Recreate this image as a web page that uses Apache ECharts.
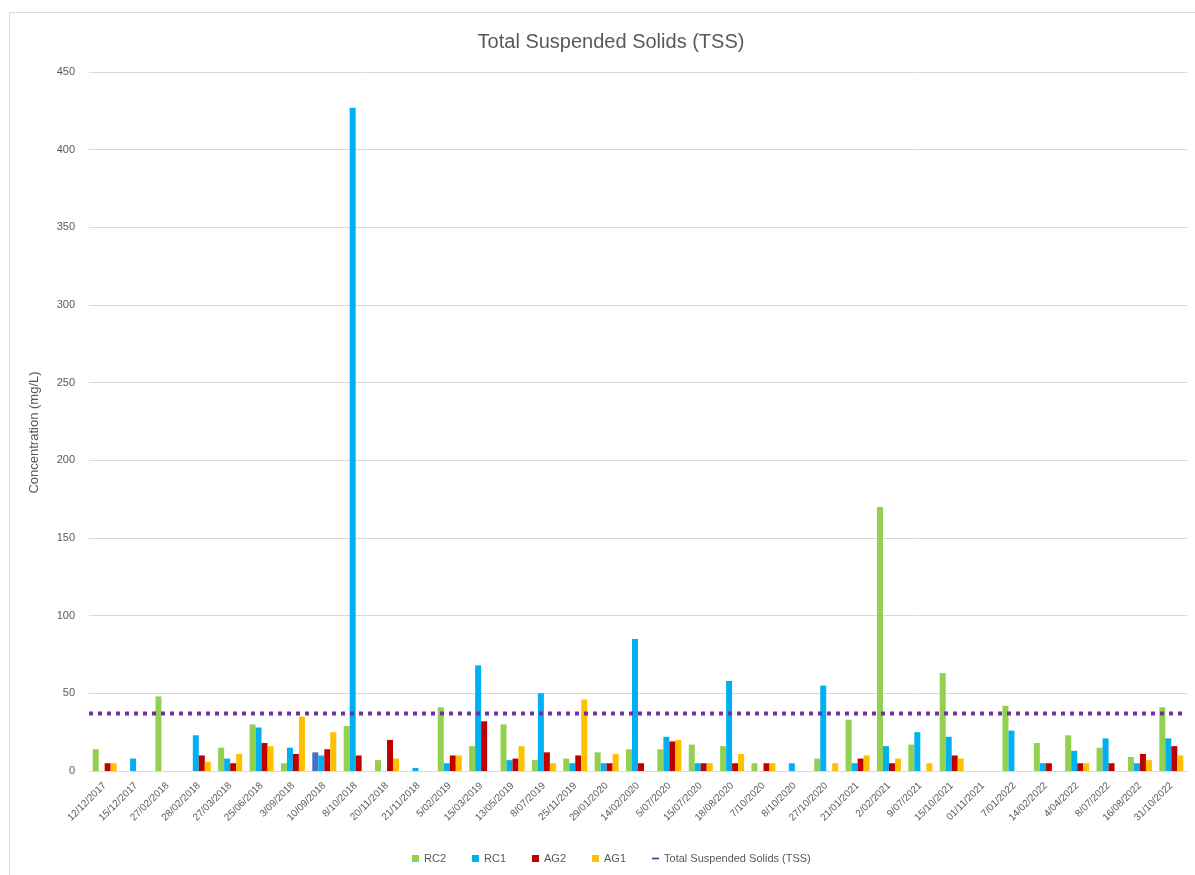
<!DOCTYPE html>
<html>
<head>
<meta charset="utf-8">
<script src="https://cdn.jsdelivr.net/npm/echarts@6/dist/echarts.min.js"></script>
<style>
  html, body { margin: 0; padding: 0; background: #fff; }
  #chart { width: 1195px; height: 875px; }
</style>
</head>
<body>
<div id="chart"></div>
<script>
// Sampling dates
const dates = ['12/12/2017','15/12/2017','27/02/2018','28/02/2018','27/03/2018','25/06/2018','3/09/2018',
  '10/09/2018','8/10/2018','20/11/2018','21/11/2018','5/02/2019','15/03/2019','13/05/2019','8/07/2019',
  '25/11/2019','29/01/2020','14/02/2020','5/07/2020','15/07/2020','18/08/2020','7/10/2020','8/10/2020',
  '27/10/2020','21/01/2021','2/02/2021','9/07/2021','15/10/2021','01/11/2021','7/01/2022','14/02/2022',
  '4/04/2022','8/07/2022','16/08/2022','31/10/2022'];

// TSS concentrations (mg/L) per site; null = not sampled
const rc2 = [14,null,48,null,15,30,5,12,29,7,null,41,16,30,7,8,12,14,14,17,16,5,null,8,33,170,17,63,null,42,18,23,15,9,41];
const rc1 = [null,8,null,23,8,28,15,10,427,null,2,5,68,7,50,5,5,85,22,5,58,null,5,55,5,16,25,22,null,26,5,13,21,5,21];
const ag2 = [5,null,null,10,5,18,11,14,10,20,null,10,32,8,12,10,5,5,19,5,5,5,null,null,8,5,null,10,null,null,5,5,5,11,16];
const ag1 = [5,null,null,6,11,16,35,25,null,8,null,10,null,16,5,46,11,null,20,5,11,5,null,5,10,8,5,8,null,null,null,5,null,7,10];

// Guideline value (mg/L)
const tssGuideline = 37;
const guideLine = dates.map(() => tssGuideline);

// Points drawn in a different fill
const altColourRC2 = { '10/09/2018': '#4472C4' };

const axisFont = 'Liberation Sans Narrow, Liberation Sans, Arial, sans-serif';
const textColour = '#595959';

function barSeries(name, values, colour, overrides) {
  return {
    name: name,
    type: 'bar',
    barWidth: 6,
    barGap: '0%',
    itemStyle: { color: colour },
    data: values.map((v, i) => {
      const c = overrides && overrides[dates[i]];
      return c ? { value: v, itemStyle: { color: c } } : v;
    })
  };
}

const chart = echarts.init(document.getElementById('chart'));
chart.setOption({
  animation: false,
  backgroundColor: '#fff',
  graphic: [{
    type: 'rect',
    left: 7, top: 10,
    shape: { width: 1200, height: 880 },
    style: { fill: 'none', stroke: '#d9d9d9', lineWidth: 1 },
    silent: true, z: -10
  }],
  title: {
    text: 'Total Suspended Solids (TSS)',
    left: 606,
    textAlign: 'center',
    top: 27,
    textStyle: { fontFamily: axisFont, fontSize: 20, fontWeight: 'normal', color: textColour }
  },
  legend: {
    top: 848,
    left: 407,
    itemWidth: 7,
    itemHeight: 7,
    itemGap: 26,
    textStyle: { fontFamily: axisFont, fontSize: 11, color: textColour },
    data: [
      { name: 'RC2', icon: 'rect' },
      { name: 'RC1', icon: 'rect' },
      { name: 'AG2', icon: 'rect' },
      { name: 'AG1', icon: 'rect' },
      { name: 'Total Suspended Solids (TSS)', icon: 'path://M0,0H12V3H0Z', itemStyle: { color: '#7030A0' } }
    ]
  },
  grid: { left: 89, right: 8, top: 72, bottom: 104 },
  xAxis: [{
    type: 'category',
    data: dates,
    axisLine: { lineStyle: { color: '#d9d9d9' } },
    axisTick: { show: false },
    axisLabel: {
      rotate: 45,
      interval: 0,
      margin: 13,
      fontFamily: axisFont,
      fontSize: 10,
      color: textColour
    }
  }, {
    type: 'category',
    data: dates,
    boundaryGap: false,
    show: false
  }],
  yAxis: {
    type: 'value',
    min: 0,
    max: 450,
    interval: 50,
    name: 'Concentration (mg/L)',
    nameLocation: 'middle',
    nameGap: 48,
    nameTextStyle: { fontFamily: axisFont, fontSize: 13, color: textColour, padding: [0, 22, 0, 0] },
    axisLine: { show: false },
    axisTick: { show: false },
    axisLabel: { fontFamily: axisFont, fontSize: 11, color: textColour, margin: 14 },
    splitLine: { lineStyle: { color: '#d9d9d9' } }
  },
  series: [
    barSeries('RC2', rc2, '#92D050', altColourRC2),
    barSeries('RC1', rc1, '#00B0F0'),
    barSeries('AG2', ag2, '#C00000'),
    barSeries('AG1', ag1, '#FFC000'),
    {
      name: 'Total Suspended Solids (TSS)',
      type: 'line',
      xAxisIndex: 1,
      data: guideLine,
      symbol: 'none',
      itemStyle: { color: '#7030A0' },
      lineStyle: { color: '#7030A0', width: 4, type: [4, 5], cap: 'butt' },
      z: 5
    }
  ]
});
</script>
</body>
</html>
